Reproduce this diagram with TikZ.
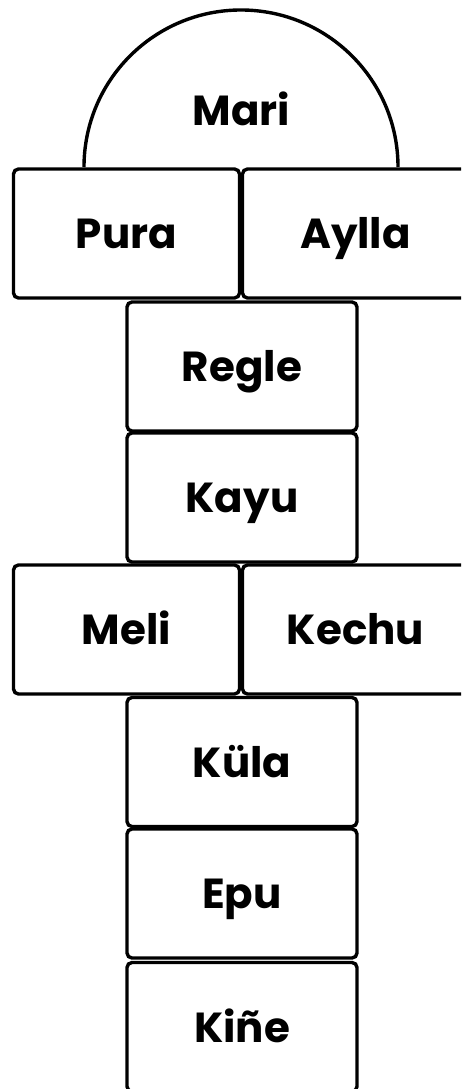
\documentclass[tikz,border=0pt]{standalone}
\usepackage{fontspec}
\setmainfont{Poppins}
\begin{document}
\begin{tikzpicture}[x=1pt,y=-1pt,
  cell/.style={draw=black, line width=3.4pt, rounded corners=5pt, inner sep=0pt, outer sep=0pt,
    minimum height=129pt, text height=30pt, text depth=0pt,
    font=\fontsize{42}{44}\selectfont\bfseries},
  sidecell/.style={cell, minimum width=226pt},
  midcell/.style={cell, minimum width=230pt},
  lbl/.style={inner sep=0pt, anchor=base, font=\fontsize{42}{44}\selectfont\bfseries}]
\useasboundingbox (0,0) rectangle (461,1089);
\clip (0,0) rectangle (461,1089);
% semicircle
\draw[line width=3.4pt] (84,167) arc[start angle=180, end angle=360, radius=157];
\node[lbl] (mari) at (241.5,126) {Mari};
% boxes
\node[sidecell] (pura) at (126.5,233.5) {Pura};
\node[sidecell] (aylla) at (355.5,233.5) {Aylla};
\node[midcell] (regle) at (242,366.5) {Regle};
\node[midcell] (kayu) at (242,497.5) {Kayu};
\node[sidecell] (meli) at (126.5,629.5) {Meli};
\node[sidecell] (kechu) at (355.5,629.5) {Kechu};
\node[midcell] (kula) at (242,762) {Küla};
\node[midcell] (epu) at (242,893.5) {Epu};
\node[midcell] (kine) at (242,1027) {Kiñe};
\end{tikzpicture}
\end{document}
